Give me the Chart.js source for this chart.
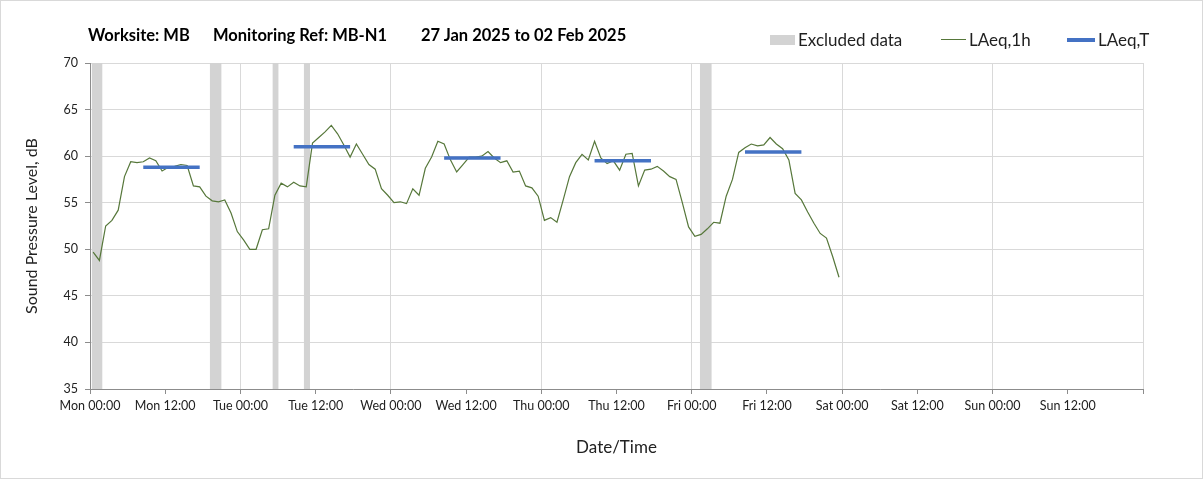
<!DOCTYPE html>
<html>
<head>
<meta charset="utf-8">
<script src="https://cdn.jsdelivr.net/npm/chart.js@4/dist/chart.umd.min.js"></script>
<style>
  html, body { margin: 0; padding: 0; background: #ffffff; }
  #wrap { position: relative; width: 1203px; height: 479px; overflow: hidden; font-family: Lato, "Open Sans", sans-serif; }
  #c { position: absolute; left: 0; top: 0; }
  #frame { position: absolute; left: 0; top: 0; width: 1201px; height: 477px; border: 1px solid #d9d9d9; pointer-events: none; }
  #title { position: absolute; top: 25px; left: 88px; font-weight: bold; font-size: 16.5px; color: #000; white-space: nowrap; }
  #title span { position: absolute; top: 0; }
  #legend { position: absolute; top: 29px; left: 0; font-size: 17px; color: #1f1f1f; white-space: nowrap; }
  .item { position: absolute; top: 0; display: flex; align-items: center; }
  .sw { width: 25px; margin-right: 3px; }
</style>
</head>
<body>
<div id="wrap">
  <canvas id="c" width="1203" height="479"></canvas>
  <div id="title">
    <span style="left:0">Worksite: MB</span>
    <span style="left:125px">Monitoring Ref: MB-N1</span>
    <span style="left:333px">27 Jan 2025 to 02 Feb 2025</span>
  </div>
  <div id="legend"></div>
  <div id="frame"></div>
</div>
<script>
// ---- Data (hours from Mon 27 Jan 2025 00:00) ----
const xTickLabels = ['Mon 00:00','Mon 12:00','Tue 00:00','Tue 12:00','Wed 00:00','Wed 12:00',
  'Thu 00:00','Thu 12:00','Fri 00:00','Fri 12:00','Sat 00:00','Sat 12:00','Sun 00:00','Sun 12:00',''];
const yTickValues = [35, 40, 45, 50, 55, 60, 65, 70];

// Hourly LAeq,1h values, plotted at the middle of each hour (first hour = Mon 00:00-01:00)
const laeq1h = [
  49.7, 48.8, 52.5, 53.1, 54.2, 57.8, 59.4, 59.3, 59.4, 59.8, 59.5, 58.4,
  58.8, 58.9, 59.1, 59.0, 56.8, 56.7, 55.7, 55.2, 55.1, 55.3, 53.9, 51.9,
  51.0, 50.0, 50.0, 52.1, 52.2, 55.8, 57.1, 56.7, 57.2, 56.8, 56.7, 61.4,
  62.0, 62.6, 63.3, 62.4, 61.2, 59.9, 61.3, 60.2, 59.1, 58.6, 56.5, 55.8,
  55.0, 55.1, 54.9, 56.5, 55.8, 58.7, 59.9, 61.6, 61.3, 59.6, 58.3, 59.1,
  59.9, 59.9, 60.0, 60.5, 59.8, 59.3, 59.5, 58.3, 58.4, 56.8, 56.6, 55.7,
  53.1, 53.4, 52.9, 55.3, 57.8, 59.3, 60.2, 59.6, 61.6, 59.8, 59.2, 59.5,
  58.5, 60.2, 60.3, 56.8, 58.5, 58.6, 58.9, 58.4, 57.8, 57.5, 55.0, 52.4,
  51.4, 51.6, 52.2, 52.9, 52.8, 55.7, 57.5, 60.4, 60.9, 61.3, 61.1, 61.2,
  62.0, 61.3, 60.8, 59.6, 56.0, 55.3, 54.0, 52.8, 51.7, 51.2, 49.2, 47.0
];
const firstHourMid = 0.5;

// LAeq,T daytime periods (hours) and values
const periodStart = [8.5, 32.5, 56.5, 80.5, 104.5];
const periodEnd   = [17.5, 41.5, 65.5, 89.5, 113.5];
const laeqT       = [58.8, 61.0, 59.8, 59.5, 60.45];

// Excluded data periods (hours)
const excludedStart = [0.25, 19.1, 29.1, 34.1, 97.3];
const excludedEnd   = [2.0, 21.0, 30.1, 35.1, 99.2];

const yMin = 35, yMax = 70, xMin = 0, xMax = 168;

// ---- Build datasets ----
const lineData = laeq1h.map((v, i) => ({ x: firstHourMid + i, y: v }));
const tData = [];
periodStart.forEach((s, i) => {
  tData.push({ x: s, y: laeqT[i] }, { x: periodEnd[i], y: laeqT[i] }, { x: periodEnd[i], y: null });
});
const exData = [];
excludedStart.forEach((s, i) => {
  exData.push({ x: s, y: yMax }, { x: excludedEnd[i], y: yMax }, { x: excludedEnd[i], y: null });
});

const GREEN = '#56773a', BLUE = '#4472c4', GREY = '#d3d3d3';
const AXIS = '#8c8c8c', GRID = '#d9d9d9';

const chart = new Chart(document.getElementById('c'), {
  type: 'line',
  data: {
    datasets: [
      { label: 'Excluded data', data: exData, order: 3, fill: 'start', backgroundColor: GREY,
        borderColor: 'rgba(0,0,0,0)', borderWidth: 0, pointRadius: 0, spanGaps: false, tension: 0 },
      { label: 'LAeq,1h', data: lineData, order: 2, borderColor: GREEN, borderWidth: 1.2,
        pointRadius: 0, fill: false, tension: 0 },
      { label: 'LAeq,T', data: tData, order: 1, borderColor: BLUE, borderWidth: 3.5,
        pointRadius: 0, fill: false, spanGaps: false, tension: 0 }
    ]
  },
  options: {
    responsive: false,
    animation: false,
    devicePixelRatio: 1,
    layout: { padding: { top: 63, right: 60, bottom: 0, left: 0 } },
    plugins: { legend: { display: false }, title: { display: false }, tooltip: { enabled: false } },
    scales: {
      x: {
        type: 'linear', min: xMin, max: xMax,
        afterBuildTicks: (s) => { s.ticks = xTickLabels.map((_, i) => ({ value: i * 12 })); },
        afterFit: (s) => { s.height = 90; },
        ticks: { autoSkip: false, maxRotation: 0, padding: 4, color: '#222',
          font: { family: 'Lato', size: 12.5 },
          callback: (v, i) => xTickLabels[i] },
        grid: { color: (ctx) => (ctx.tick && ctx.tick.value % 24 === 0) ? GRID : 'rgba(0,0,0,0)',
          tickColor: AXIS, tickLength: 5, lineWidth: 1 },
        border: { color: AXIS, width: 1 },
        title: { display: true, text: 'Date/Time', color: '#222', font: { family: 'Lato', size: 17 },
          padding: { top: 0, bottom: 21 } }
      },
      y: {
        min: yMin, max: yMax,
        afterBuildTicks: (s) => { s.ticks = yTickValues.map(v => ({ value: v })); },
        afterFit: (s) => { s.width = 90; },
        ticks: { padding: 7, color: '#222', font: { family: 'Lato', size: 12.5 } },
        grid: { color: GRID, tickColor: AXIS, tickLength: 5, lineWidth: 1 },
        border: { color: AXIS, width: 1 },
        title: { display: true, text: 'Sound Pressure Level, dB', color: '#222',
          font: { family: 'Lato', size: 16 }, padding: { top: 22, bottom: 0 } }
      }
    }
  }
});

// ---- HTML legend built from the chart's datasets ----
const legendLeft = [770, 941, 1067];
const legend = document.getElementById('legend');
chart.data.datasets.forEach((ds, i) => {
  const item = document.createElement('div');
  item.className = 'item';
  item.style.left = legendLeft[i] + 'px';
  const sw = document.createElement('div');
  sw.className = 'sw';
  if (ds.fill) { sw.style.height = '10px'; sw.style.background = ds.backgroundColor; }
  else {
    sw.style.height = ds.borderWidth > 2 ? '4px' : '1px'; sw.style.background = ds.borderColor;
    if (ds.borderWidth > 2) sw.style.width = '28px';
  }
  const t = document.createElement('span');
  t.textContent = ds.label;
  item.appendChild(sw); item.appendChild(t);
  legend.appendChild(item);
});
</script>
</body>
</html>
